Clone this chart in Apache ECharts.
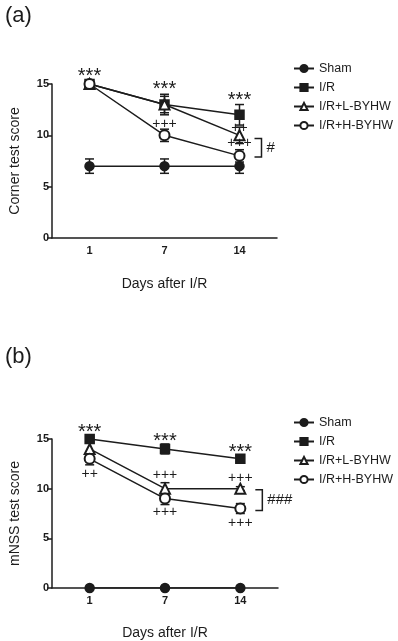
<!DOCTYPE html>
<html>
<head>
<meta charset="utf-8">
<style>
  html, body { margin: 0; padding: 0; background: #fff; }
  #chart { width: 398px; height: 641px; }
</style>
<script src="https://cdn.jsdelivr.net/npm/echarts@6/dist/echarts.min.js"></script>
</head>
<body>
<div id="chart"></div>
<script>
// x categories and y ticks
const days = ['1', '7', '14']
const groups = ['Sham', 'I/R', 'I/R+L-BYHW', 'I/R+H-BYHW']

// panel (a): corner test score, mean and error
const shamA = [7, 7, 7]
const shamAErr = [0.7, 0.7, 0.7]
const irA = [15, 13, 12]
const irAErr = [0.3, 1, 1]
const lowA = [15, 13, 10]
const lowAErr = [0.3, 0.8, 0.8]
const highA = [15, 10, 8]
const highAErr = [0.4, 0.6, 0.6]

// panel (b): mNSS test score
const shamB = [0, 0, 0]
const shamBErr = [0, 0, 0]
const irB = [15, 14, 13]
const irBErr = [0.2, 0.5, 0.3]
const lowB = [14, 10, 10]
const lowBErr = [0.7, 0.6, 0.2]
const highB = [13, 9, 8]
const highBErr = [0.6, 0.6, 0.5]

// significance marks: [day index, y value, text]
const marksA = [[0, 16.2, '***'], [1, 15.0, '***'], [1, 11.1, '+++'], [2, 13.9, '***'], [2, 10.7, '++'], [2, 9.25, '+++']]
const marksB = [[0, 16.2, '***'], [0, 11.5, '++'], [1, 15.3, '***'], [1, 11.4, '+++'], [1, 7.6, '+++'], [2, 14.1, '***'], [2, 11.1, '+++'], [2, 6.5, '+++']]
// brackets: [day index, top, bottom, text]
const bracketA = [[2, 9.7, 7.9, '#']]
const bracketB = [[2, 9.9, 7.8, '###']]

const ink = '#1c1c1c'
const font = 'Liberation Sans, Arial, sans-serif'
const symbols = ['circle', 'rect', 'emptyTriangle', 'emptyCircle']
const symbolSizes = [9, 9, 10, 10]

const chart = echarts.init(document.getElementById('chart'))

const lineSeries = (name, values, gi, i) => ({
  name,
  type: 'line',
  xAxisIndex: gi,
  yAxisIndex: gi,
  data: values,
  symbol: symbols[i],
  symbolSize: symbolSizes[i],
  showAllSymbol: true,
  lineStyle: { color: ink, width: 1.5 },
  itemStyle: { color: ink, borderColor: ink, borderWidth: 1.5 },
  z: 3,
  animation: false
})

const errSeries = (values, errs, gi) => ({
  type: 'custom',
  xAxisIndex: gi,
  yAxisIndex: gi,
  data: values.map((v, i) => [i, v, errs[i]]),
  z: 2,
  silent: true,
  renderItem: (params, api) => {
    const x = api.value(0), m = api.value(1), e = api.value(2)
    if (!e) return null
    const top = api.coord([x, m + e])
    const bot = api.coord([x, m - e])
    const w = 4.5
    const style = { stroke: ink, lineWidth: 1.5 }
    return {
      type: 'group',
      children: [
        { type: 'line', shape: { x1: top[0], y1: top[1], x2: bot[0], y2: bot[1] }, style },
        { type: 'line', shape: { x1: top[0] - w, y1: top[1], x2: top[0] + w, y2: top[1] }, style },
        { type: 'line', shape: { x1: bot[0] - w, y1: bot[1], x2: bot[0] + w, y2: bot[1] }, style }
      ]
    }
  }
})

const markSeries = (marks, gi) => ({
  type: 'custom',
  xAxisIndex: gi,
  yAxisIndex: gi,
  data: marks.map(d => [d[0], d[1]]),
  z: 4,
  silent: true,
  renderItem: (params, api) => {
    const p = api.coord([api.value(0), api.value(1)])
    const text = marks[params.dataIndex][2]
    // asterisks sit high in the em box: bigger size, nudged down
    const star = text[0] === '*'
    return {
      type: 'text',
      x: p[0],
      y: p[1] + (star ? 5 : 0),
      style: {
        text,
        fill: ink,
        font: (star ? '20px ' : '14px ') + font,
        align: 'center',
        verticalAlign: 'middle'
      }
    }
  }
})

const bracketSeries = (brackets, gi) => ({
  type: 'custom',
  xAxisIndex: gi,
  yAxisIndex: gi,
  data: brackets.map(d => [d[0], d[1], d[2]]),
  z: 4,
  silent: true,
  renderItem: (params, api) => {
    const t = api.coord([api.value(0), api.value(1)])
    const b = api.coord([api.value(0), api.value(2)])
    const x1 = t[0] + 15, x2 = t[0] + 22
    const style = { stroke: ink, lineWidth: 1.5 }
    return {
      type: 'group',
      children: [
        { type: 'polyline', shape: { points: [[x1, t[1]], [x2, t[1]], [x2, b[1]], [x1, b[1]]] }, style: { ...style, fill: null } },
        {
          type: 'text',
          x: x2 + 5,
          y: (t[1] + b[1]) / 2,
          style: { text: brackets[params.dataIndex][3], fill: ink, font: '15px ' + font, align: 'left', verticalAlign: 'middle' }
        }
      ]
    }
  }
})

const xAxis = gi => ({
  type: 'category',
  gridIndex: gi,
  data: days,
  boundaryGap: true,
  name: 'Days after I/R',
  nameLocation: 'middle',
  nameGap: gi === 0 ? 39 : 38,
  nameTextStyle: { color: ink, fontSize: 14, fontFamily: font },
  axisLine: { lineStyle: { color: ink, width: 1.5 } },
  axisTick: { alignWithLabel: true, length: 4, lineStyle: { color: ink, width: 1.5 } },
  axisLabel: { color: ink, fontSize: 11, fontWeight: 'bold', fontFamily: font, margin: 7 },
  splitLine: { show: false }
})

const yAxis = (gi, name) => ({
  type: 'value',
  gridIndex: gi,
  min: 0,
  max: 15,
  interval: 5,
  name,
  nameLocation: 'middle',
  nameGap: 30,
  nameTextStyle: { color: ink, fontSize: 14, fontFamily: font },
  axisLine: { show: true, lineStyle: { color: ink, width: 1.5 } },
  axisTick: { show: true, length: 5, lineStyle: { color: ink, width: 1.5 } },
  axisLabel: { color: ink, fontSize: 11, fontWeight: 'bold', fontFamily: font, margin: 3 },
  splitLine: { show: false }
})

const legend = top => ({
  orient: 'vertical',
  left: 293,
  top,
  padding: 0,
  data: groups,
  itemWidth: 20,
  itemHeight: 9,
  itemGap: 6,
  textStyle: { color: ink, fontSize: 12.5, fontFamily: font },
  selectedMode: false
})

chart.setOption({
  animation: false,
  title: [
    { text: '(a)', left: 0, top: 0, textStyle: { fontSize: 22, fontWeight: 'normal', color: ink, fontFamily: font } },
    { text: '(b)', left: 0, top: 341, textStyle: { fontSize: 22, fontWeight: 'normal', color: ink, fontFamily: font } }
  ],
  legend: [legend(62), legend(416)],
  grid: [
    { left: 45, top: 84, width: 232, height: 154 },
    { left: 46, top: 439, width: 232, height: 154 }
  ],
  xAxis: [xAxis(0), xAxis(1)],
  yAxis: [yAxis(0, 'Corner test score'), yAxis(1, 'mNSS test score')],
  series: [
    lineSeries(groups[0], shamA, 0, 0),
    lineSeries(groups[1], irA, 0, 1),
    lineSeries(groups[2], lowA, 0, 2),
    lineSeries(groups[3], highA, 0, 3),
    errSeries(shamA, shamAErr, 0),
    errSeries(irA, irAErr, 0),
    errSeries(lowA, lowAErr, 0),
    errSeries(highA, highAErr, 0),
    markSeries(marksA, 0),
    bracketSeries(bracketA, 0),
    lineSeries(groups[0], shamB, 1, 0),
    lineSeries(groups[1], irB, 1, 1),
    lineSeries(groups[2], lowB, 1, 2),
    lineSeries(groups[3], highB, 1, 3),
    errSeries(shamB, shamBErr, 1),
    errSeries(irB, irBErr, 1),
    errSeries(lowB, lowBErr, 1),
    errSeries(highB, highBErr, 1),
    markSeries(marksB, 1),
    bracketSeries(bracketB, 1)
  ]
})

window.addEventListener('resize', () => chart.resize())
</script>
</body>
</html>
